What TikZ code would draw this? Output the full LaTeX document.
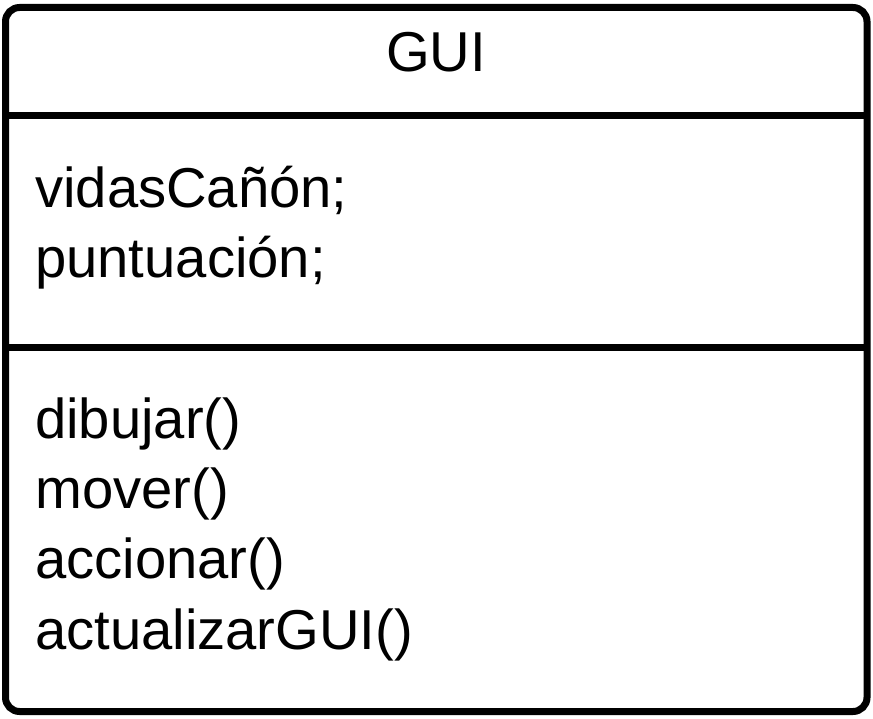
\documentclass[tikz,border=0pt]{standalone}
\usepackage{fontspec}
\setmainfont{Liberation Sans}
\tikzset{member/.style={anchor=base west, inner sep=0pt, font=\fontsize{56.2}{70}\selectfont}}

\begin{document}
\begin{tikzpicture}[x=1pt,y=-1pt]
			%%%%% START %%%%%
			
			\useasboundingbox (0, 0) rectangle (873, 719);
			
			\draw[line width=7pt, rounded corners=14pt] (5.5, 7.5) rectangle (867, 711.5);
			\draw[line width=7pt] (5.5, 115.5) -- (867, 115.5);
			\draw[line width=7pt] (5.5, 347.5) -- (867, 347.5);
			
			\node[member, anchor=base] (title) at (436, 72) {GUI};
			
			\node[member] (vidas) at (35, 208) {vidasCañón;};
			\node[member] (puntos) at (35, 277.5) {puntuación;};
			
			\node[member] (dibujar) at (35, 438) {dibujar()};
			\node[member] (mover) at (35, 508) {mover()};
			\node[member] (accionar) at (35, 578.5) {accionar()};
			\node[member] (actualizar) at (35, 649) {actualizarGUI()};
			
			%%%%% END %%%%%
		\end{tikzpicture}
\end{document}
